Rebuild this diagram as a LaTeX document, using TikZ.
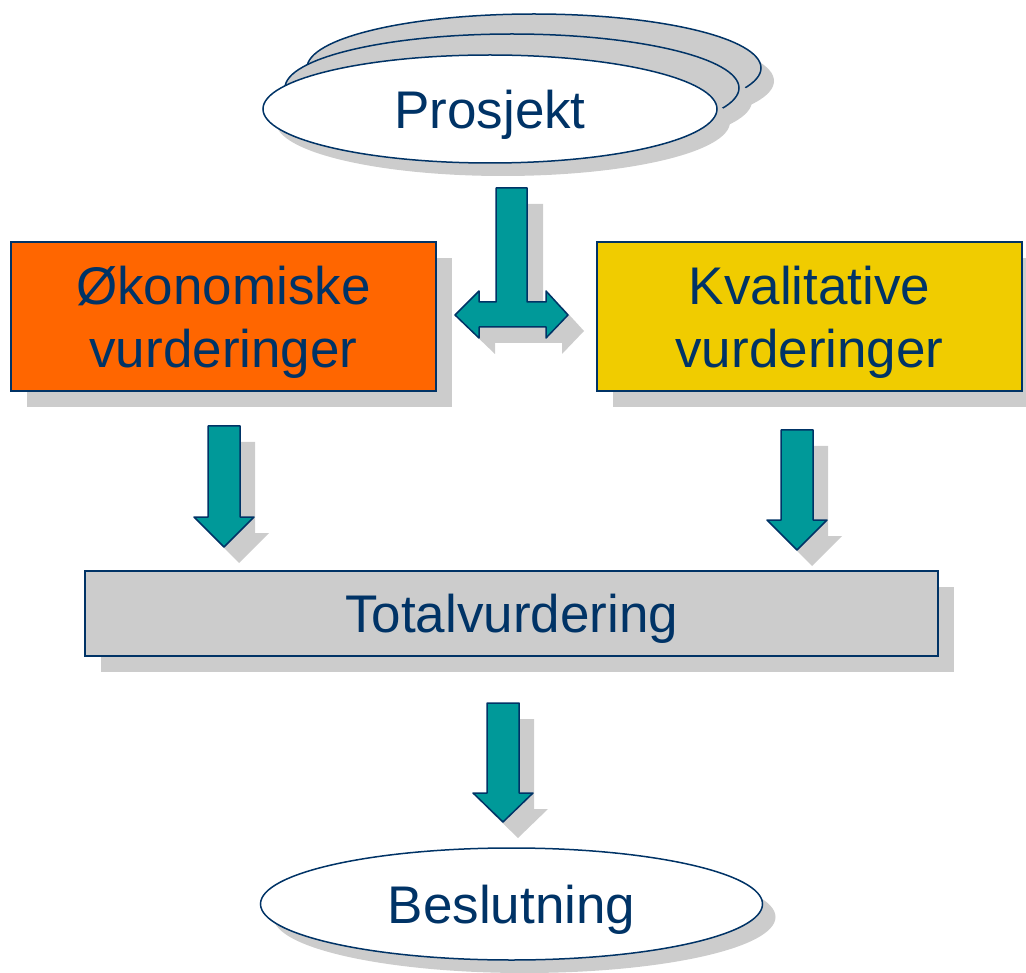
\documentclass[tikz,border=0pt]{standalone}
\usepackage{fontspec}
\setmainfont{Liberation Sans}
\usetikzlibrary{shapes.geometric,shadows}
\definecolor{slidenavy}{RGB}{0,51,102}
\definecolor{slideteal}{RGB}{0,153,153}
\definecolor{slideorange}{RGB}{255,102,0}
\definecolor{slideyellow}{RGB}{240,204,0}
\definecolor{shadowgray}{RGB}{204,204,204}

% block arrow pointing down: x, top, end of shaft, tip
\newcommand{\tealdown}[4]{%
  \fill[shadowgray,shift={(15,16)}]
    (#1-16,#2) -- (#1+16,#2) -- (#1+16,#3) -- (#1+30,#3) -- (#1,#4)
    -- (#1-30,#3) -- (#1-16,#3) -- cycle;
  \filldraw[fill=slideteal,draw=slidenavy,line width=1.5pt,line join=round]
    (#1-16,#2) -- (#1+16,#2) -- (#1+16,#3) -- (#1+30,#3) -- (#1,#4)
    -- (#1-30,#3) -- (#1-16,#3) -- cycle;}

\begin{document}
\begin{tikzpicture}[x=1pt,y=-1pt,
    every node/.style={font=\fontsize{53}{63}\selectfont,text=slidenavy,
      text depth=0pt},
    boxed/.style={draw=slidenavy,line width=1.5pt,inner sep=0pt,
      align=center,minimum width=425pt,minimum height=149pt,
      drop shadow={shadow xshift=16pt,shadow yshift=-16pt,
        fill=shadowgray,opacity=1}},
    oval/.style={ellipse,draw=slidenavy,line width=1.5pt,inner sep=0pt,
      drop shadow={shadow xshift=13pt,shadow yshift=-13pt,
        fill=shadowgray,opacity=1}}]
  \useasboundingbox (0,0) rectangle (1026,973);

  % stacked project ovals
  \node[oval,fill=shadowgray,minimum width=454pt,minimum height=108pt]
    (back) at (534,68) {};
  \node[oval,fill=shadowgray,minimum width=454pt,minimum height=108pt]
    (middle) at (512,88) {};
  \node[oval,fill=white,minimum width=454pt,minimum height=108pt]
    (prosjekt) at (490,109) {Prosjekt};

  % T-shaped arrow
  \fill[shadowgray,shift={(16,16)}]
    (496,188) -- (527,188) -- (527,302) -- (546,302) -- (546,291)
    -- (568,315) -- (546,338) -- (546,327) -- (479,327) -- (479,338)
    -- (455,315) -- (479,291) -- (479,302) -- (496,302) -- cycle;
  \filldraw[fill=slideteal,draw=slidenavy,line width=1.5pt,line join=round]
    (496,188) -- (527,188) -- (527,302) -- (546,302) -- (546,291)
    -- (568,315) -- (546,338) -- (546,327) -- (479,327) -- (479,338)
    -- (455,315) -- (479,291) -- (479,302) -- (496,302) -- cycle;

  \node[boxed,fill=slideorange] (okonomi) at (223.5,316.5)
    {Økonomiske\\vurderinger};
  \node[boxed,fill=slideyellow] (kvalitet) at (809.5,316.5)
    {Kvalitative\\vurderinger};

  \tealdown{224}{426}{517}{547}
  \tealdown{797}{430}{520}{550}

  \node[boxed,fill=shadowgray,minimum width=853pt,minimum height=85pt]
    (total) at (511.5,613.5) {Totalvurdering};

  \tealdown{503}{703}{793}{822}

  \node[oval,fill=white,minimum width=502pt,minimum height=112pt]
    (beslutning) at (511.5,904) {Beslutning};
\end{tikzpicture}
\end{document}
